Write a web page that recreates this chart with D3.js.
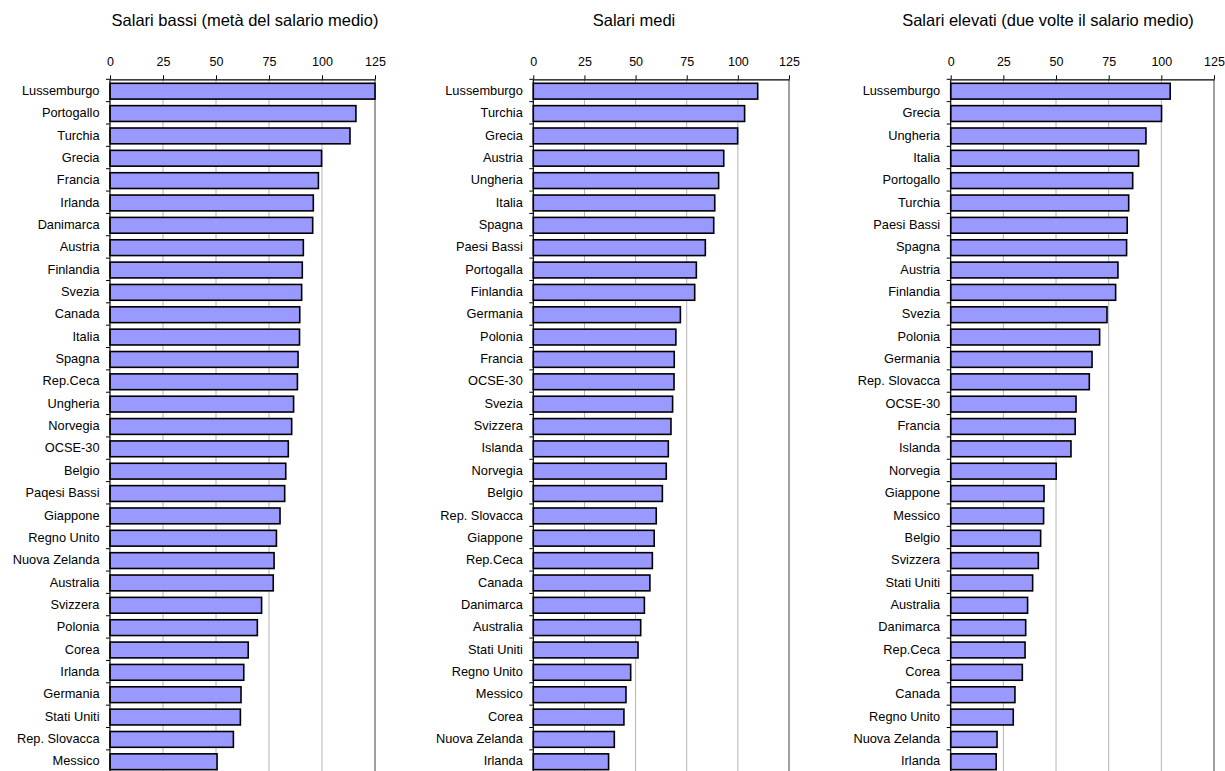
<!DOCTYPE html>
<html>
<head>
<meta charset="utf-8">
<script src="https://cdn.jsdelivr.net/npm/d3@7"></script>
<style>
  html, body { margin: 0; padding: 0; background: #fff; overflow: hidden; }
  svg { display: block; font-family: "Liberation Sans", Arial, sans-serif; }
</style>
</head>
<body>
<svg id="chart" width="1225" height="771"></svg>
<script>
const tickValues = [0, 25, 50, 75, 100, 125];

const lowTitle = "Salari bassi (metà del salario medio)";
const lowCategories = ["Lussemburgo","Portogallo","Turchia","Grecia","Francia","Irlanda","Danimarca","Austria","Finlandia","Svezia","Canada","Italia","Spagna","Rep.Ceca","Ungheria","Norvegia","OCSE-30","Belgio","Paqesi Bassi","Giappone","Regno Unito","Nuova Zelanda","Australia","Svizzera","Polonia","Corea","Irlanda","Germania","Stati Uniti","Rep. Slovacca","Messico"];
const lowValues = [125,116,113.2,99.8,98.3,95.9,95.6,91.2,90.7,90.4,89.5,89.4,88.7,88.4,86.6,85.7,84.1,82.9,82.4,80.2,78.5,77.4,77.0,71.5,69.5,65.2,63.1,61.8,61.5,58.2,50.5];

const midTitle = "Salari medi";
const midCategories = ["Lussemburgo","Turchia","Grecia","Austria","Ungheria","Italia","Spagna","Paesi Bassi","Portogalla","Finlandia","Germania","Polonia","Francia","OCSE-30","Svezia","Svizzera","Islanda","Norvegia","Belgio","Rep. Slovacca","Giappone","Rep.Ceca","Canada","Danimarca","Australia","Stati Uniti","Regno Unito","Messico","Corea","Nuova Zelanda","Irlanda"];
const midValues = [109.7,103.3,99.9,93.1,90.6,88.7,88.2,84.1,79.7,78.9,71.9,69.7,68.9,68.8,68.1,67.3,66.0,65.0,63.1,60.1,59.1,58.2,57.0,54.3,52.5,51.2,47.6,45.3,44.3,39.6,36.8];

const highTitle = "Salari elevati (due volte il salario medio)";
const highCategories = ["Lussemburgo","Grecia","Ungheria","Italia","Portogallo","Turchia","Paesi Bassi","Spagna","Austria","Finlandia","Svezia","Polonia","Germania","Rep. Slovacca","OCSE-30","Francia","Islanda","Norvegia","Giappone","Messico","Belgio","Svizzera","Stati Uniti","Australia","Danimarca","Rep.Ceca","Corea","Canada","Regno Unito","Nuova Zelanda","Irlanda"];
const highValues = [104.2,100.1,92.7,89.2,86.4,84.5,83.8,83.5,79.4,78.3,74.2,70.7,67.1,65.8,59.5,59.1,57.1,50.1,44.3,44.1,42.7,41.6,38.9,36.5,35.6,35.3,34.0,30.5,29.7,22.0,21.6];

const svg = d3.select("#chart");

const panels = [
  { title: lowTitle,  cats: lowCategories,  vals: lowValues,  x0: 110,   x1: 375,  titleX: 245 },
  { title: midTitle,  cats: midCategories,  vals: midValues,  x0: 533.3, x1: 789,  titleX: 634 },
  { title: highTitle, cats: highCategories, vals: highValues, x0: 950.7, x1: 1214, titleX: 1048 }
];

const plotTop = 79.3, plotBottom = 772.2;

panels.forEach(p => {
  const g = svg.append("g");
  const x = d3.scaleLinear().domain([0, 125]).range([p.x0, p.x1]);
  const y = d3.scaleBand().domain(p.cats.map((c, i) => i)).range([plotTop, plotBottom]).padding(0);
  const step = y.step();

  // gridlines
  g.append("g").selectAll("line").data(tickValues.filter(t => t > 0 && t < 125)).join("line")
    .attr("x1", d => x(d)).attr("x2", d => x(d))
    .attr("y1", plotTop).attr("y2", plotBottom)
    .attr("stroke", "#b4b4b4").attr("stroke-width", 1);
  // right border
  g.append("line").attr("x1", x(125)).attr("x2", x(125)).attr("y1", plotTop).attr("y2", plotBottom)
    .attr("stroke", "#808080").attr("stroke-width", 1.5);

  // bars
  g.append("g").selectAll("rect").data(p.vals).join("rect")
    .attr("x", x(0))
    .attr("y", (d, i) => y(i) + 4)
    .attr("width", d => x(d) - x(0))
    .attr("height", 15.8)
    .attr("fill", "#9999ff")
    .attr("stroke", "#000")
    .attr("stroke-width", 1.6);

  // top axis
  const ax = g.append("g").attr("transform", `translate(0,${plotTop})`)
    .call(d3.axisTop(x).tickValues(tickValues).tickSize(4).tickSizeOuter(0).tickPadding(9));
  ax.select(".domain").attr("stroke", "#000").attr("stroke-width", 1.2);
  ax.selectAll(".tick line").attr("stroke", "#000");
  ax.selectAll("text").attr("font-size", 12.5).attr("fill", "#000")
    .attr("font-family", "Liberation Sans, Arial, sans-serif");

  // left axis
  g.append("line").attr("x1", x(0)).attr("x2", x(0)).attr("y1", plotTop).attr("y2", plotBottom)
    .attr("stroke", "#000").attr("stroke-width", 1.2);
  g.append("g").selectAll("line").data(p.cats.map((c, i) => i)).join("line")
    .attr("x1", x(0) - 4).attr("x2", x(0))
    .attr("y1", d => y(d)).attr("y2", d => y(d))
    .attr("stroke", "#000").attr("stroke-width", 1);

  // category labels
  g.append("g").selectAll("text").data(p.cats).join("text")
    .attr("x", x(0) - 10.5)
    .attr("y", (d, i) => y(i) + step / 2 + 1)
    .attr("text-anchor", "end")
    .attr("dominant-baseline", "middle")
    .attr("font-size", 12.8)
    .attr("fill", "#000")
    .text(d => d);

  // title
  g.append("text").attr("x", p.titleX).attr("y", 26)
    .attr("text-anchor", "middle").attr("font-size", 16.5).attr("fill", "#000")
    .text(p.title);
});
</script>
</body>
</html>
